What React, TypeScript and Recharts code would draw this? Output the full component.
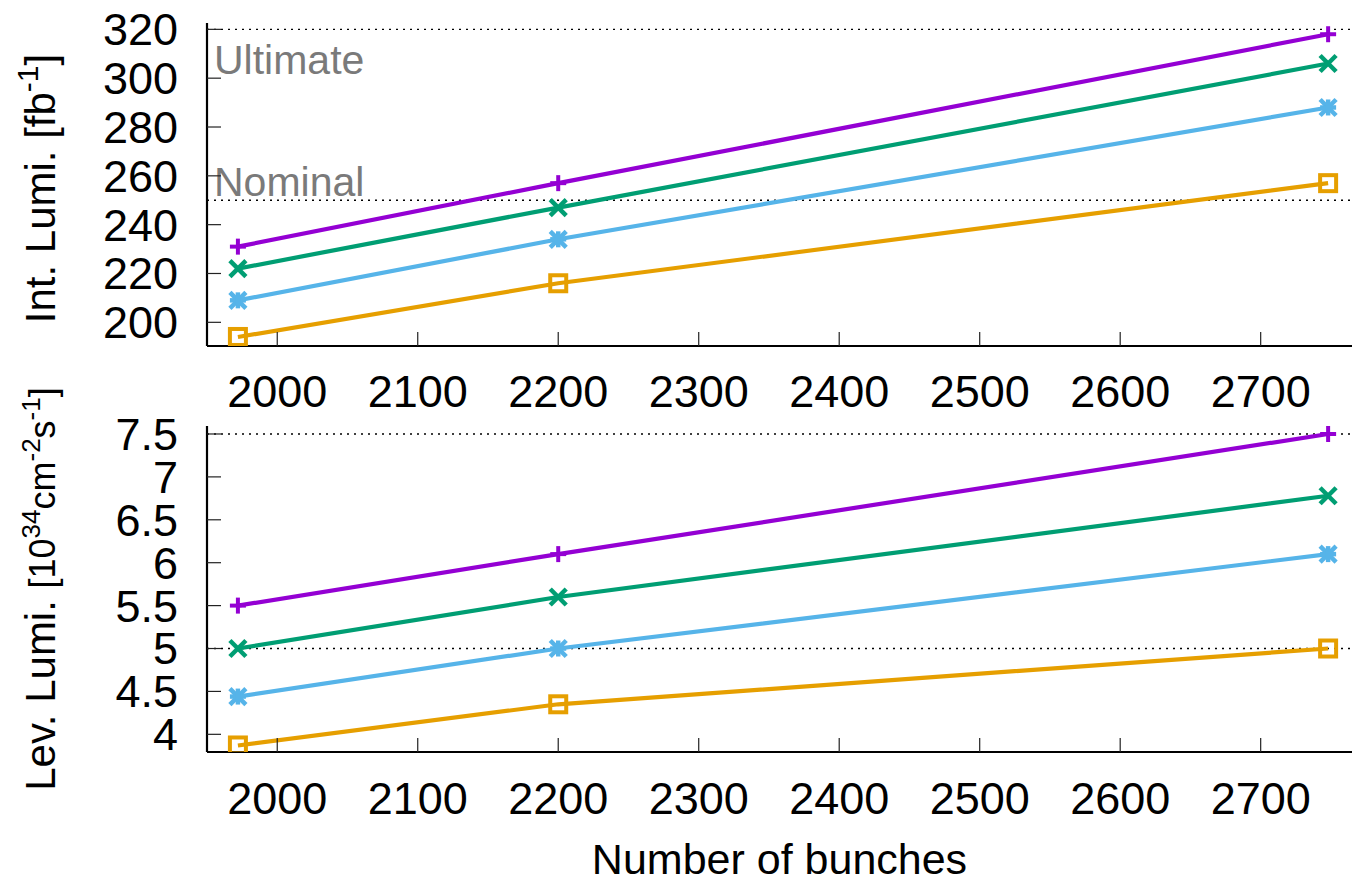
import React from 'react';
import { LineChart, Line, XAxis, YAxis, ReferenceLine } from 'recharts';

const bunches = [1972, 2200, 2748];
const xTicks = [2000, 2100, 2200, 2300, 2400, 2500, 2600, 2700];

const intTicks = [200, 220, 240, 260, 280, 300, 320];
const intPurple = [231, 257, 318];
const intGreen = [222, 247, 306];
const intBlue = [209, 234, 288];
const intOrange = [194, 216, 257];

const levTicks = [4, 4.5, 5, 5.5, 6, 6.5, 7, 7.5];
const levPurple = [5.5, 6.1, 7.5];
const levGreen = [5.0, 5.6, 6.78];
const levBlue = [4.44, 5.0, 6.1];
const levOrange = [3.87, 4.35, 5.0];

const refInt = [
  { value: 320, text: 'Ultimate' },
  { value: 250, text: 'Nominal' },
];
const refLev = [7.5, 5];

const C_PURPLE = '#9400d3';
const C_GREEN = '#009e73';
const C_BLUE = '#56b4e9';
const C_ORANGE = '#e69f00';

const FONT = '"Liberation Sans", Arial, Helvetica, sans-serif';

const intData = bunches.map((b, i) => ({
  x: b,
  purple: intPurple[i],
  green: intGreen[i],
  blue: intBlue[i],
  orange: intOrange[i],
}));
const levData = bunches.map((b, i) => ({
  x: b,
  purple: levPurple[i],
  green: levGreen[i],
  blue: levBlue[i],
  orange: levOrange[i],
}));

type Kind = 'plus' | 'cross' | 'star' | 'square';

const makeDot = (kind: Kind, color: string) => (props: any) => {
  const { cx, cy, index } = props;
  if (cx == null || cy == null) return <g key={index} />;
  const h = 8;
  if (kind === 'plus') {
    return (
      <g key={index} stroke={color} strokeWidth={4}>
        <line x1={cx - h} y1={cy} x2={cx + h} y2={cy} />
        <line x1={cx} y1={cy - h} x2={cx} y2={cy + h} />
      </g>
    );
  }
  if (kind === 'cross') {
    return (
      <g key={index} stroke={color} strokeWidth={4.5}>
        <line x1={cx - h} y1={cy - h} x2={cx + h} y2={cy + h} />
        <line x1={cx - h} y1={cy + h} x2={cx + h} y2={cy - h} />
      </g>
    );
  }
  if (kind === 'star') {
    return (
      <g key={index} stroke={color} strokeWidth={4.5}>
        <line x1={cx - h} y1={cy - h} x2={cx + h} y2={cy + h} />
        <line x1={cx - h} y1={cy + h} x2={cx + h} y2={cy - h} />
        <line x1={cx - h} y1={cy} x2={cx + h} y2={cy} />
        <line x1={cx} y1={cy - h} x2={cx} y2={cy + h} />
      </g>
    );
  }
  return (
    <rect key={index} x={cx - 8} y={cy - 8} width={16} height={16} fill="none" stroke={color} strokeWidth={4} />
  );
};

const RefLabel = (props: any) => {
  const { viewBox, text, dy } = props;
  if (!viewBox) return null;
  return (
    <text x={viewBox.x + 7} y={viewBox.y + dy} fill="#7a7a7a" fontSize={41} fontFamily={FONT}>
      {text}
    </text>
  );
};

const TopYTitle = (props: any) => {
  const { viewBox } = props;
  if (!viewBox) return null;
  const x = viewBox.x + 55;
  const y = viewBox.y + viewBox.height / 2 + 4;
  return (
    <text x={x} y={y} transform={`rotate(-90, ${x}, ${y})`} textAnchor="middle" fontSize={42} fontFamily={FONT} fill="#000">
      <tspan>Int. Lumi. [fb</tspan>
      <tspan fontSize={30} dy={-17}>-1</tspan>
      <tspan dy={17}>]</tspan>
    </text>
  );
};

const BottomYTitle = (props: any) => {
  const { viewBox } = props;
  if (!viewBox) return null;
  const x = viewBox.x + 55;
  const y = viewBox.y + viewBox.height / 2;
  return (
    <text x={x} y={y} transform={`rotate(-90, ${x}, ${y})`} textAnchor="middle" fontSize={42} fontFamily={FONT} fill="#000">
      <tspan>Lev. Lumi. </tspan>
      <tspan fontSize={36}>[10</tspan>
      <tspan fontSize={26} dy={-15}>34</tspan>
      <tspan fontSize={36} dy={15}>cm</tspan>
      <tspan fontSize={26} dy={-15}>-2</tspan>
      <tspan fontSize={36} dy={15}>s</tspan>
      <tspan fontSize={26} dy={-15}>-1</tspan>
      <tspan fontSize={36} dy={15}>]</tspan>
    </text>
  );
};

const XTitle = (props: any) => {
  const { viewBox } = props;
  if (!viewBox) return null;
  return (
    <text x={viewBox.x + viewBox.width / 2} y={viewBox.y + 122} textAnchor="middle" fontSize={43} fontFamily={FONT} fill="#000">
      Number of bunches
    </text>
  );
};

const tickStyle = { fontSize: 45, fontFamily: FONT, fill: '#000' };
const axisLine = { stroke: '#000', strokeWidth: 2.2 };
const tickLine = { stroke: '#222', strokeWidth: 1.2 };
const TS = -14;

const fmtLev = (v: number) => String(v);

const series: { key: string; color: string; kind: Kind }[] = [
  { key: 'purple', color: C_PURPLE, kind: 'plus' },
  { key: 'green', color: C_GREEN, kind: 'cross' },
  { key: 'blue', color: C_BLUE, kind: 'star' },
  { key: 'orange', color: C_ORANGE, kind: 'square' },
];

const renderLines = () =>
  series.map((s) => (
    <Line
      key={s.key}
      xAxisId="b"
      yAxisId="l"
      type="linear"
      dataKey={s.key}
      stroke={s.color}
      strokeWidth={4.2}
      dot={makeDot(s.kind, s.color)}
      activeDot={false}
      isAnimationActive={false}
    />
  ));

export default function App() {
  return (
    <div style={{ position: 'absolute', left: 0, top: 0, width: 1353, height: 884, background: '#fff', overflow: 'hidden' }}>
      <div style={{ position: 'absolute', left: 0, top: 0 }}>
        <LineChart width={1353} height={420} data={intData} margin={{ top: 23, right: 1, bottom: 0, left: 0 }}>
          <XAxis
            xAxisId="b"
            dataKey="x"
            type="number"
            domain={[1950, 2765]}
            allowDataOverflow
            ticks={xTicks}
            interval={0}
            height={74}
            tick={tickStyle}
            tickSize={TS}
            tickMargin={43}
            axisLine={axisLine}
            tickLine={tickLine}
          />
          <XAxis
            xAxisId="t"
            orientation="top"
            dataKey="x"
            type="number"
            domain={[1950, 2765]}
            allowDataOverflow
            ticks={xTicks}
            interval={0}
            height={0}
            tick={false}
            tickSize={TS}
            axisLine={axisLine}
            tickLine={tickLine}
          />
          <YAxis
            yAxisId="l"
            type="number"
            domain={[190.3, 322.6]}
            allowDataOverflow
            ticks={intTicks}
            interval={0}
            width={207}
            tick={tickStyle}
            tickSize={TS}
            tickMargin={43}
            axisLine={axisLine}
            tickLine={tickLine}
            label={<TopYTitle />}
          />
          <YAxis
            yAxisId="r"
            orientation="right"
            type="number"
            domain={[190.3, 322.6]}
            allowDataOverflow
            ticks={intTicks}
            interval={0}
            width={0}
            tick={false}
            tickSize={TS}
            axisLine={axisLine}
            tickLine={tickLine}
          />
          {refInt.map((r, i) => (
            <ReferenceLine
              key={r.value}
              xAxisId="b"
              yAxisId="l"
              y={r.value}
              stroke="#000"
              strokeWidth={1.3}
              strokeDasharray="2 5"
              label={<RefLabel text={r.text} dy={i === 0 ? 45 : -4} />}
            />
          ))}
          {renderLines()}
        </LineChart>
      </div>
      <div style={{ position: 'absolute', left: 0, top: 360 }}>
        <LineChart width={1353} height={524} data={levData} margin={{ top: 66, right: 1, bottom: 0, left: 0 }}>
          <XAxis
            xAxisId="b"
            dataKey="x"
            type="number"
            domain={[1950, 2765]}
            allowDataOverflow
            ticks={xTicks}
            interval={0}
            height={132}
            tick={tickStyle}
            tickSize={TS}
            tickMargin={44}
            axisLine={axisLine}
            tickLine={tickLine}
            label={<XTitle />}
          />
          <XAxis
            xAxisId="t"
            orientation="top"
            dataKey="x"
            type="number"
            domain={[1950, 2765]}
            allowDataOverflow
            ticks={xTicks}
            interval={0}
            height={0}
            tick={false}
            tickSize={TS}
            axisLine={axisLine}
            tickLine={tickLine}
          />
          <YAxis
            yAxisId="l"
            type="number"
            domain={[3.794, 7.593]}
            allowDataOverflow
            ticks={levTicks}
            interval={0}
            tickFormatter={fmtLev}
            width={207}
            tick={tickStyle}
            tickSize={TS}
            tickMargin={43}
            axisLine={axisLine}
            tickLine={tickLine}
            label={<BottomYTitle />}
          />
          <YAxis
            yAxisId="r"
            orientation="right"
            type="number"
            domain={[3.794, 7.593]}
            allowDataOverflow
            ticks={levTicks}
            interval={0}
            width={0}
            tick={false}
            tickSize={TS}
            axisLine={axisLine}
            tickLine={tickLine}
          />
          {refLev.map((v) => (
            <ReferenceLine
              key={v}
              xAxisId="b"
              yAxisId="l"
              y={v}
              stroke="#000"
              strokeWidth={1.3}
              strokeDasharray="2 5"
            />
          ))}
          {renderLines()}
        </LineChart>
      </div>
    </div>
  );
}
